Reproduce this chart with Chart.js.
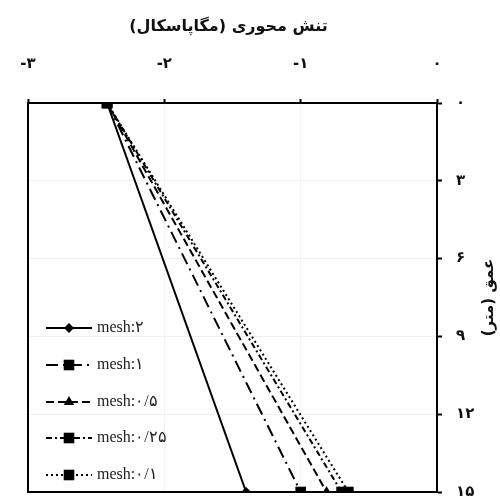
<!DOCTYPE html>
<html>
<head>
<meta charset="utf-8">
<script src="https://cdn.jsdelivr.net/npm/chart.js@4/dist/chart.umd.min.js"></script>
<style>
  html, body { margin: 0; padding: 0; background: #fff; }
  #wrap { width: 500px; height: 500px; }
</style>
</head>
<body>
<div id="wrap"><canvas id="c" width="500" height="500"></canvas></div>
<script>
// Depths (m) at which stress is sampled
const depths = [0, 15];
// Axial stress (MPa) at each depth, one array per mesh size
const mesh2 = [-2.42, -1.40];
const mesh1 = [-2.42, -1.00];
const mesh05 = [-2.42, -0.81];
const mesh025 = [-2.42, -0.70];
const mesh01 = [-2.42, -0.65];
const seriesLabels = ['mesh:۲', 'mesh:۱', 'mesh:۰/۵', 'mesh:۰/۲۵', 'mesh:۰/۱'];
const xTicks = [-3, -2, -1, 0];
const yTicks = [0, 3, 6, 9, 12, 15];
const xTitle = 'تنش محوری (مگاپاسکال)';
const yTitle = 'عمق (متر)';

const faDigits = '۰۱۲۳۴۵۶۷۸۹';
const toFa = v => String(v).replace(/[0-9]/g, d => faDigits[+d]);

const seriesValues = [mesh2, mesh1, mesh05, mesh025, mesh01];
const styles = [
  { dash: [], pointStyle: 'rectRot', radius: 5 },
  { dash: [12, 5, 2, 5], pointStyle: 'rect', radius: 7.5 },
  { dash: [8, 4], pointStyle: 'triangle', radius: 6 },
  { dash: [6, 3, 2, 3], pointStyle: 'rect', radius: 7.5 },
  { dash: [2, 3], pointStyle: 'rect', radius: 7.5 }
];

const datasets = seriesValues.map((vals, i) => ({
  label: seriesLabels[i],
  data: vals.map((v, k) => ({ x: v, y: depths[k] })),
  borderColor: '#000',
  backgroundColor: '#000',
  borderWidth: 2,
  borderDash: styles[i].dash,
  pointStyle: styles[i].pointStyle,
  pointRadius: styles[i].radius,
  pointBorderWidth: 0,
  pointBackgroundColor: '#000',
  tension: 0
}));

// Plot frame, axis titles and the in-plot legend
const decor = {
  id: 'decor',
  afterDatasetsDraw(chart) {
    const { ctx, chartArea: a } = chart;
    ctx.save();
    ctx.strokeStyle = '#000';
    ctx.lineWidth = 2;
    ctx.setLineDash([]);
    ctx.strokeRect(a.left, a.top, a.right - a.left, a.bottom - a.top);

    // top title
    ctx.fillStyle = '#111';
    ctx.font = 'bold 16px "DejaVu Sans", sans-serif';
    ctx.textAlign = 'center';
    ctx.textBaseline = 'middle';
    ctx.fillText(xTitle, (a.left + a.right) / 2 - 4, 27);

    // right title, rotated
    ctx.save();
    ctx.translate(489, (a.top + a.bottom) / 2);
    ctx.rotate(-Math.PI / 2);
    ctx.font = 'bold 15px "DejaVu Sans", sans-serif';
    ctx.fillText(yTitle, 0, 0);
    ctx.restore();

    // legend
    const x0 = 46, x1 = 92, mx = 69, tx = 97;
    const rowY = [328, 365, 402, 438, 475];
    chart.data.datasets.forEach((ds, i) => {
      const y = rowY[i];
      ctx.strokeStyle = '#000';
      ctx.lineWidth = 2;
      ctx.setLineDash(ds.borderDash);
      ctx.beginPath();
      ctx.moveTo(x0, y);
      ctx.lineTo(x1, y);
      ctx.stroke();
      ctx.setLineDash([]);
      ctx.fillStyle = '#000';
      Chart.helpers.drawPoint(ctx, {
        pointStyle: ds.pointStyle,
        radius: ds.pointRadius,
        rotation: 0,
        borderWidth: 0
      }, mx, y);
      ctx.fillStyle = '#222';
      ctx.font = '16px "Liberation Serif", "DejaVu Serif", serif';
      ctx.textAlign = 'left';
      ctx.textBaseline = 'middle';
      ctx.fillText(ds.label, tx, y);
    });
    ctx.restore();
  }
};

new Chart(document.getElementById('c'), {
  type: 'line',
  data: { datasets },
  options: {
    responsive: false,
    animation: false,
    layout: { padding: { left: 28, right: 0, top: 0, bottom: 8 } },
    plugins: { legend: { display: false }, tooltip: { enabled: false }, title: { display: false } },
    scales: {
      x: {
        type: 'linear',
        position: 'top',
        min: -3,
        max: 0,
        afterBuildTicks: s => { s.ticks = xTicks.map(v => ({ value: v })); },
        afterFit: s => { s.height = 103; s.paddingLeft = 0; s.paddingRight = 0; },
        ticks: {
          callback: v => (v < 0 ? '-' + toFa(-v) : toFa(v)),
          color: '#111',
          font: { family: '"DejaVu Sans", sans-serif', size: 15, weight: 'bold' },
          padding: 26,
          maxRotation: 0
        },
        grid: { color: '#f3f3f3', lineWidth: 1, tickLength: 4, tickColor: '#000', tickWidth: 2 },
        border: { display: true, color: '#000', width: 2 }
      },
      y: {
        type: 'linear',
        position: 'right',
        reverse: true,
        min: 0,
        max: 15,
        afterBuildTicks: s => { s.ticks = yTicks.map(v => ({ value: v })); },
        afterFit: s => { s.width = 63; s.paddingTop = 0; s.paddingBottom = 0; },
        ticks: {
          callback: v => toFa(v),
          color: '#111',
          font: { family: '"DejaVu Sans", sans-serif', size: 15, weight: 'bold' },
          padding: 14
        },
        grid: { color: '#f0f0f0', lineWidth: 1, tickLength: 5, tickColor: '#000', tickWidth: 2 },
        border: { display: true, color: '#000', width: 2 }
      }
    }
  },
  plugins: [decor]
});
</script>
</body>
</html>
